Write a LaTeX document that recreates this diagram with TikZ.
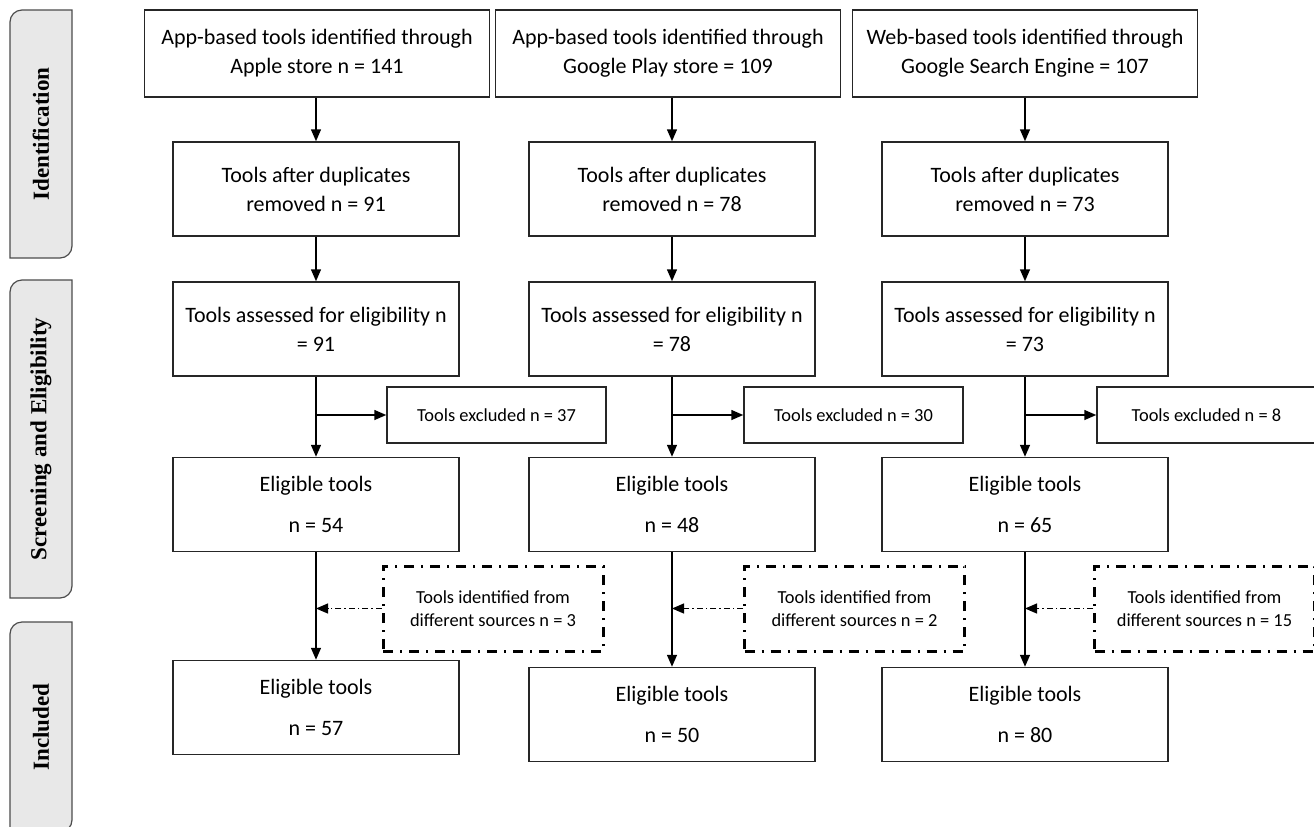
\documentclass[tikz,border=0pt]{standalone}
\usepackage{fontspec}
\setmainfont{Carlito}
\newfontfamily\phasefont{Liberation Serif}
\usetikzlibrary{arrows.meta}

\begin{document}
\begin{tikzpicture}[x=0.5pt,y=-0.5pt,
    box/.style={draw=black!85,line width=0.75pt,align=center,inner sep=2pt,
        minimum width=143pt,minimum height=47pt,font={\fontsize{11}{14.5}\selectfont}},
    topbox/.style={box,minimum width=172.5pt,minimum height=43.5pt},
    exbox/.style={box,minimum width=109.5pt,minimum height=28pt,font={\fontsize{9.2}{11.5}\selectfont}},
    srcbox/.style={draw,line width=1.5pt,dash pattern=on 5pt off 3.5pt on 1pt off 3.5pt,align=center,
        minimum width=110pt,minimum height=42.5pt,font={\fontsize{9.2}{11.5}\selectfont}},
    arr/.style={-{Triangle[length=6pt,width=5pt]},line width=0.75pt},
    darr/.style={arr,line width=0.6pt,dash pattern=on 3pt off 1.5pt on 0.7pt off 1.5pt},
    phase/.style={fill=black!9,draw=black!70,line width=0.6pt}]

\useasboundingbox (0,0) rectangle (1314,826);

\foreach \ya/\yb/\lab [count=\i] in {10/258/Identification,280/598/Screening and Eligibility,622/832/Included}{
    \draw[phase] (72,\ya) -- ([xshift=6pt]10,\ya) arc[start angle=90,end angle=180,radius=6pt]
        -- (10,\yb) -- ([xshift=-6pt]72,\yb) arc[start angle=-90,end angle=0,radius=6pt] -- cycle;
    \node[rotate=90,font={\phasefont\bfseries\fontsize{11.5}{13}\selectfont}] (phase\i) at (41,{(\ya+\yb)/2}) {\lab};
}

\node[topbox] (topA) at (317,53.5) {App-based tools identified through\\Apple store n = 141};
\node[topbox] (topB) at (668,53.5) {App-based tools identified through\\Google Play store = 109};
\node[topbox] (topC) at (1025,53.5) {Web-based tools identified through\\Google Search Engine = 107};

\node[box] (dupA) at (316,189) {Tools after duplicates\\removed n = 91};
\node[box] (dupB) at (672,189) {Tools after duplicates\\removed n = 78};
\node[box] (dupC) at (1025,189) {Tools after duplicates\\removed n = 73};

\node[box] (assA) at (316,329) {Tools assessed for eligibility n\\= 91};
\node[box] (assB) at (672,329) {Tools assessed for eligibility n\\= 78};
\node[box] (assC) at (1025,329) {Tools assessed for eligibility n\\= 73};

\node[exbox] (exA) at (496.5,415) {Tools excluded n = 37};
\node[exbox] (exB) at (853.5,415) {Tools excluded n = 30};
\node[exbox] (exC) at (1206.5,415) {Tools excluded n = 8};

\node[box] (eligA) at (316,504.5) {Eligible tools\\[6pt]n = 54};
\node[box] (eligB) at (672,504.5) {Eligible tools\\[6pt]n = 48};
\node[box] (eligC) at (1025,504.5) {Eligible tools\\[6pt]n = 65};

\node[srcbox] (srcA) at (493,608.5) {Tools identified from\\different sources n = 3};
\node[srcbox] (srcB) at (854.5,608.5) {Tools identified from\\different sources n = 2};
\node[srcbox] (srcC) at (1204.5,608.5) {Tools identified from\\different sources n = 15};

\node[box] (finA) at (316,707.5) {Eligible tools\\[6pt]n = 57};
\node[box] (finB) at (672,714.5) {Eligible tools\\[6pt]n = 50};
\node[box] (finC) at (1025,714.5) {Eligible tools\\[6pt]n = 80};

\foreach \n in {A,B,C}{
    \draw[arr] (dup\n.north |- top\n.south) -- (dup\n);
    \draw[arr] (dup\n) -- (ass\n);
    \draw[arr] (ass\n) -- (elig\n);
    \draw[arr] (ass\n.south |- ex\n.west) -- (ex\n);
    \draw[arr] (elig\n) -- (fin\n);
    \draw[darr] (src\n) -- (src\n.west -| elig\n.south);
}

\end{tikzpicture}
\end{document}
